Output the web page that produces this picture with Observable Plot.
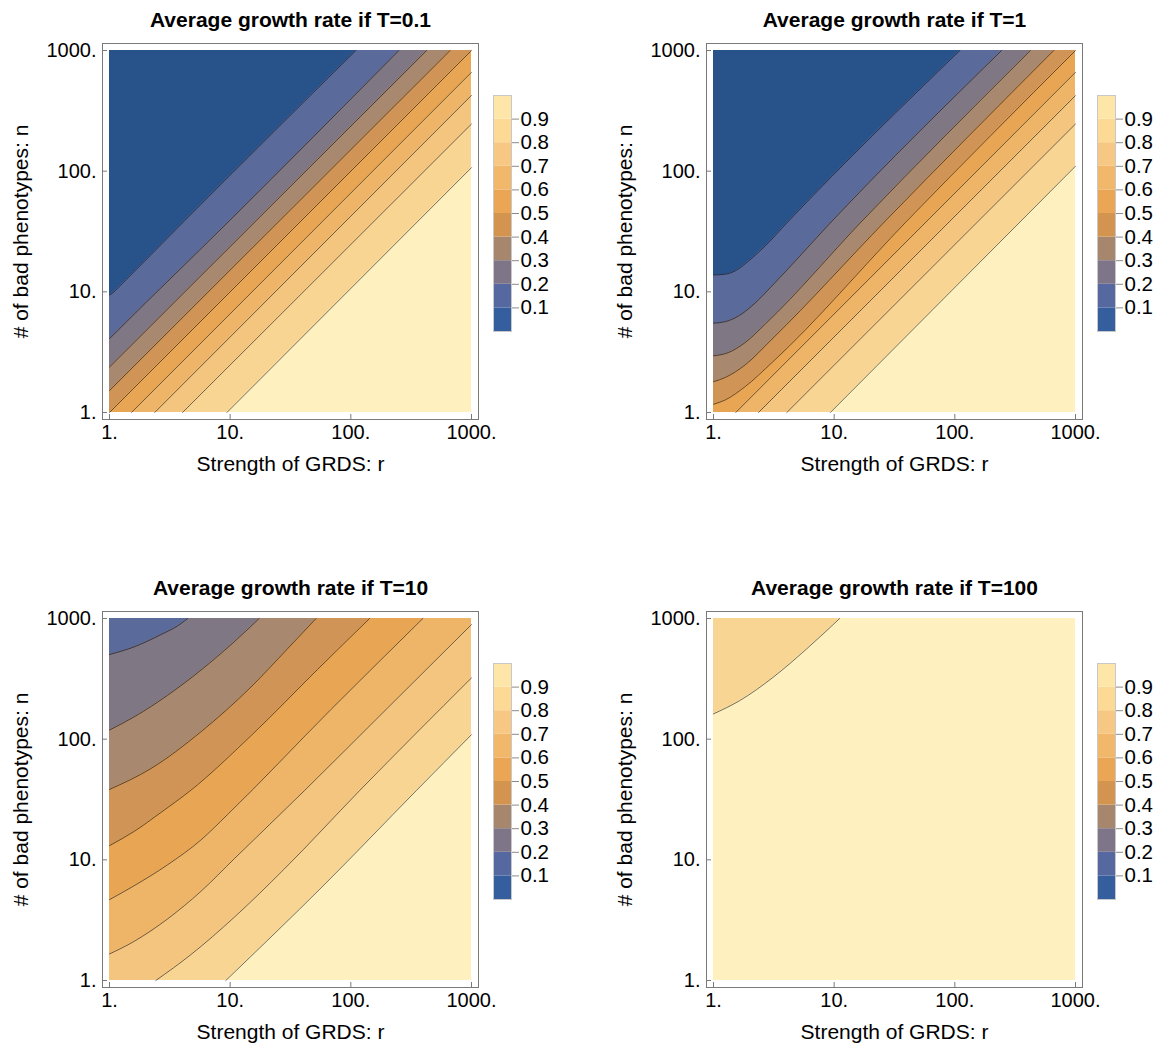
<!DOCTYPE html>
<html>
<head>
<meta charset="utf-8">
<script src="https://cdn.jsdelivr.net/npm/d3@7"></script>
<script src="https://cdn.jsdelivr.net/npm/@observablehq/plot@0.6"></script>
<style>
  html, body { margin: 0; padding: 0; background: #fff; }
  #root { position: relative; width: 1162px; height: 1047px; background: #fff; overflow: hidden; }
  #root > svg { position: absolute; }
</style>
</head>
<body>
<div id="root"></div>
<script>
// ---------- data ----------
const R_DOMAIN = [1, 1000];
const N_DOMAIN = [1, 1000];
const axisTicks = [1, 10, 100, 1000];
const axisTickLabels = ["1.", "10.", "100.", "1000."];
const contourLevels = [0.1, 0.2, 0.3, 0.4, 0.5, 0.6, 0.7, 0.8, 0.9];
const legendTickLabels = ["0.1", "0.2", "0.3", "0.4", "0.5", "0.6", "0.7", "0.8", "0.9"];

// band colours (index 0: below 0.1 ... index 9: above 0.9)
const plotBandColors = ["#27538a", "#5a6a9b", "#7f7784", "#a8886e", "#d09556",
                        "#e8a553", "#eeb568", "#f4c57f", "#f9d594", "#fef0bf"];
const legendBandColors = ["#355e9f", "#5569a0", "#7e7688", "#a6876e", "#d3944f",
                          "#eaa654", "#f1b86c", "#f6c883", "#fcd995", "#fee6a9"];

const titles = ["Average growth rate if T=0.1", "Average growth rate if T=1",
                "Average growth rate if T=10", "Average growth rate if T=100"];
const xLabel = "Strength of GRDS: r";
const yLabel = "# of bad phenotypes: n";

// contour lines: [r, n] points
const contoursT01 = [
  {level: 0.1, pts: [[1, 9.4], [1.09, 10.0], [1.2, 11.0], [4.16, 38.6], [110, 1000]]},
  {level: 0.2, pts: [[1, 4.1], [1.09, 4.45], [1.2, 4.9], [9.8, 38.6], [250, 1000]]},
  {level: 0.3, pts: [[1, 2.38], [425, 1000]]},
  {level: 0.4, pts: [[1, 1.52], [665, 1000]]},
  {level: 0.5, pts: [[1, 1], [1000, 1000]]},
  {level: 0.6, pts: [[1.52, 1], [1000, 660]]},
  {level: 0.7, pts: [[2.37, 1], [1000, 425]]},
  {level: 0.8, pts: [[4.03, 1], [1000, 246]]},
  {level: 0.9, pts: [[9.4, 1], [1000, 107]]}
];
const contoursT1 = [
  {level: 0.1, pts: [[1, 13.8], [1.25, 14.0], [1.51, 14.9], [1.95, 18.0], [2.68, 24], [4.19, 38.6], [110, 1000]]},
  {level: 0.2, pts: [[1, 5.5], [1.25, 5.66], [1.61, 6.3], [2.22, 8.1], [3.05, 11.2], [9.6, 38.6], [244, 1000]]},
  {level: 0.3, pts: [[1, 2.95], [1.33, 3.14], [1.83, 3.8], [2.68, 5.4], [17, 38.6], [423, 1000]]},
  {level: 0.4, pts: [[1, 1.8], [1.25, 1.95], [1.83, 2.48], [3.05, 4.05], [26.5, 38.6], [660, 1000]]},
  {level: 0.5, pts: [[1, 1.17], [1.25, 1.27], [1.83, 1.64], [3.05, 2.59], [40, 38.6], [1000, 1000]]},
  {level: 0.6, pts: [[1.53, 1], [1000, 660]]},
  {level: 0.7, pts: [[2.36, 1], [1000, 423]]},
  {level: 0.8, pts: [[4.05, 1], [1000, 246]]},
  {level: 0.9, pts: [[9.3, 1], [1000, 110]]}
];
const contoursT10 = [
  {level: 0.2, pts: [[1, 503], [1.6, 582], [2.67, 736], [3.67, 869], [4.44, 1000]]},
  {level: 0.3, pts: [[1, 119], [1.6, 153], [3.03, 231], [5.72, 373], [10.8, 641], [17.4, 1000]]},
  {level: 0.4, pts: [[1, 38.3], [2.2, 57], [5.72, 115], [14.9, 271], [30, 564], [51.5, 1000]]},
  {level: 0.5, pts: [[1, 13.1], [1.6, 17.2], [2.67, 24.7], [4.67, 37.4], [14.9, 107], [53.2, 380], [143, 1000]]},
  {level: 0.6, pts: [[1, 4.68], [1.6, 6.1], [3.03, 9.1], [5.72, 14.6], [9.5, 23.7], [68.7, 177], [395, 1000]]},
  {level: 0.7, pts: [[1, 1.66], [1.6, 2.11], [3.03, 3.24], [5.72, 5.48], [10.8, 10.2], [41.2, 37.4], [200, 180], [1000, 891]]},
  {level: 0.8, pts: [[2.42, 1], [4.73, 1.64], [10.8, 3.34], [28.1, 8.4], [118, 37.4], [1000, 322]]},
  {level: 0.9, pts: [[9.2, 1], [60, 6.2], [348, 37.4], [1000, 109]]}
];
const contoursT100 = [
  {level: 0.9, pts: [[1, 162], [1.64, 208], [3.11, 325], [5.89, 558], [11.1, 1000]]}
];
const panelContours = [contoursT01, contoursT1, contoursT10, contoursT100];

// ---------- drawing ----------
const FONT = "'Liberation Sans', Arial, Helvetica, sans-serif";
const [R_MIN, R_MAX] = R_DOMAIN;
const [N_MIN, N_MAX] = N_DOMAIN;
const CURVE = "monotone-x";

function fillMarks(contours) {
  const withK = contours.map(c => ({...c, k: contourLevels.indexOf(c.level) + 1}));
  // lines starting on the left edge: fill the low-value side (above the line)
  const upper = withK.filter(c => c.pts[0][0] <= R_MIN).sort((a, b) => b.k - a.k);
  // lines starting on the bottom edge: fill the high-value side (below the line)
  const lower = withK.filter(c => c.pts[0][0] > R_MIN).sort((a, b) => a.k - b.k);
  const bgIndex = upper.length ? upper[0].k : lower[0].k - 1;
  const marks = [Plot.rect([0], {x1: R_MIN, x2: R_MAX, y1: N_MIN, y2: N_MAX, fill: plotBandColors[bgIndex]})];
  for (const c of upper)
    marks.push(Plot.areaY(c.pts, {x: d => d[0], y1: d => d[1], y2: N_MAX, curve: CURVE, fill: plotBandColors[c.k - 1]}));
  for (const c of lower)
    marks.push(Plot.areaY(c.pts, {x: d => d[0], y1: N_MIN, y2: d => d[1], curve: CURVE, fill: plotBandColors[c.k]}));
  return marks;
}

function panel(i) {
  const contours = panelContours[i];
  const lines = contours.map(c =>
    Plot.line(c.pts, {x: d => d[0], y: d => d[1], curve: CURVE, stroke: "#000", strokeOpacity: 0.55, strokeWidth: 1}));
  const fmt = d => axisTickLabels[axisTicks.indexOf(d)];
  return Plot.plot({
    width: 520, height: 479,
    marginLeft: 102, marginRight: 42, marginTop: 43, marginBottom: 60,
    x: {type: "log", domain: R_DOMAIN, inset: 7},
    y: {type: "log", domain: N_DOMAIN, inset: 7},
    style: {fontFamily: FONT, fontSize: "20px", color: "#000", background: "transparent", overflow: "visible"},
    marks: [
      ...fillMarks(contours),
      ...lines,
      Plot.frame({stroke: "#7a7a7a", strokeWidth: 1}),
      Plot.axisX({ticks: axisTicks, tickFormat: fmt, tickSize: 0, tickPadding: 5, label: null, fontSize: 20}),
      Plot.axisX({ticks: axisTicks, tickSize: 5, dy: -5, text: null, stroke: "#7a7a7a", label: null}),
      Plot.axisY({ticks: axisTicks, tickFormat: fmt, tickSize: 0, tickPadding: 6, label: null, fontSize: 20}),
      Plot.axisY({ticks: axisTicks, tickSize: 5, dx: 5, text: null, stroke: "#7a7a7a", label: null}),
      Plot.text([titles[i]], {frameAnchor: "top", dy: -23, textAnchor: "middle", lineAnchor: "middle", fontWeight: "bold", fontSize: 21}),
      Plot.text([xLabel], {frameAnchor: "bottom", dy: 45, textAnchor: "middle", lineAnchor: "middle", fontSize: 21}),
      Plot.text([yLabel], {frameAnchor: "left", dx: -81, rotate: -90, textAnchor: "middle", lineAnchor: "middle", fontSize: 21})
    ]
  });
}

function legend() {
  const bands = legendBandColors.map((c, k) => ({lo: k / 10, hi: (k + 1) / 10, color: c}));
  return Plot.plot({
    width: 62, height: 260,
    marginLeft: 0, marginRight: 44, marginTop: 10, marginBottom: 14,
    x: {domain: [0, 1], axis: null},
    y: {domain: [0, 1], axis: null},
    color: {type: "identity"},
    style: {fontFamily: FONT, fontSize: "20.5px", color: "#000", background: "transparent", overflow: "visible"},
    marks: [
      Plot.rect(bands, {x1: 0, x2: 1, y1: "lo", y2: "hi", fill: "color"}),
      Plot.frame({stroke: "#c8c8c8"}),
      Plot.axisY({anchor: "right", ticks: contourLevels, tickFormat: d => legendTickLabels[contourLevels.indexOf(d)],
                  tickSize: 7, tickPadding: 2, stroke: "#8a8a8a", label: null, fontSize: 20.5})
    ]
  });
}

const root = document.getElementById("root");
const positions = [[0, 0], [604, 0], [0, 568], [604, 568]];
positions.forEach(([left, top], i) => {
  const svg = panel(i);
  svg.style.left = left + "px";
  svg.style.top = top + "px";
  root.appendChild(svg);
  const lg = legend();
  lg.style.left = (left + 493) + "px";
  lg.style.top = (top + 85) + "px";
  root.appendChild(lg);
});
</script>
</body>
</html>
